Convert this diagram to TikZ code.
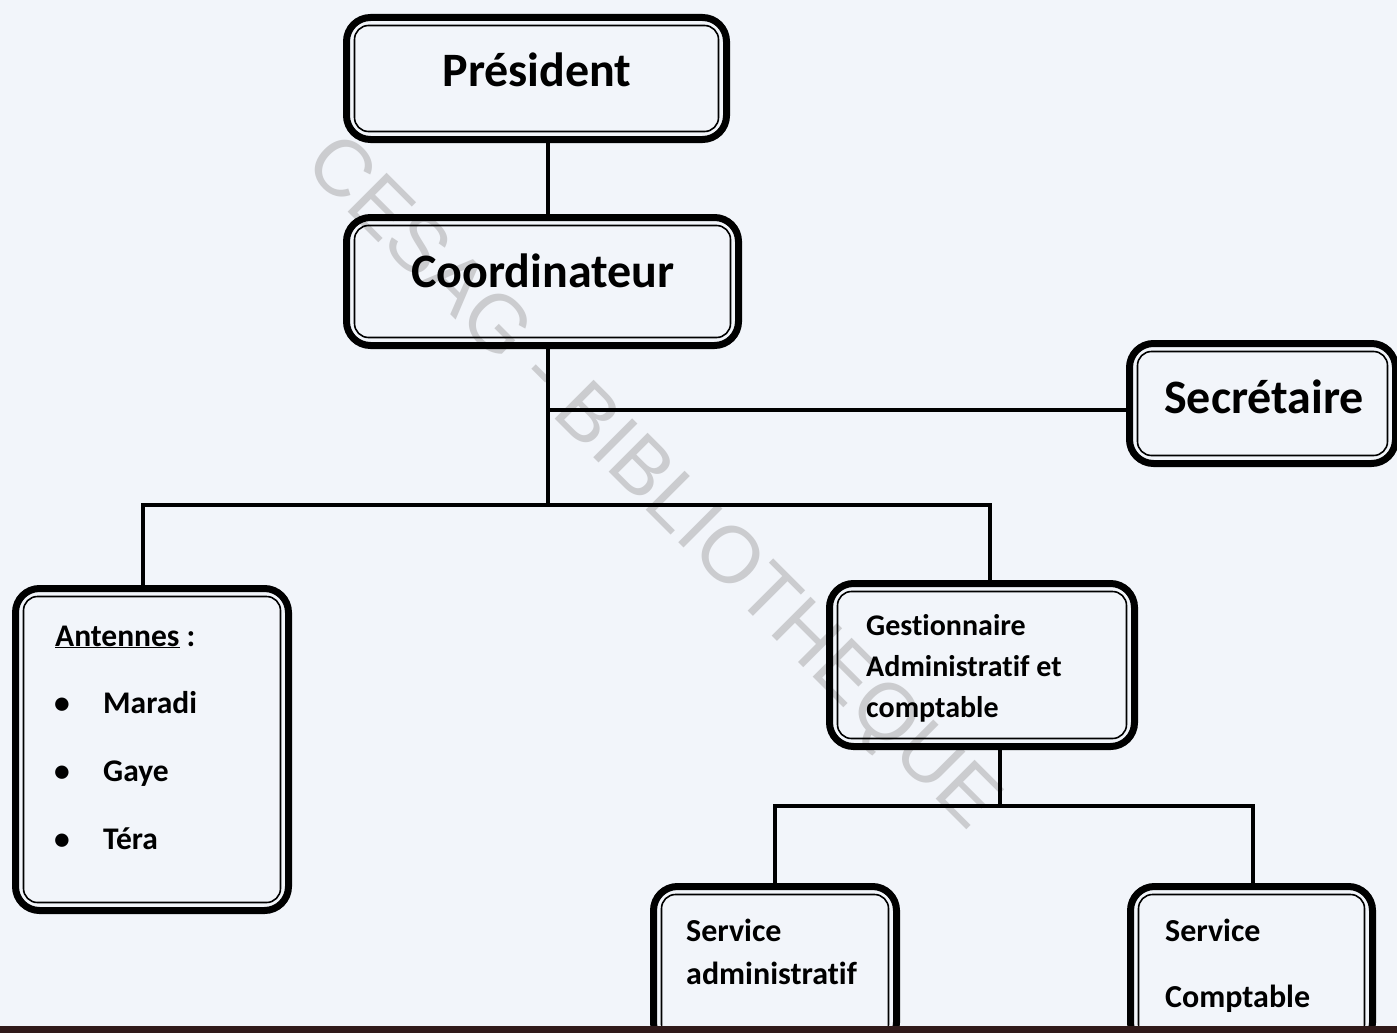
\documentclass[tikz,border=0pt]{standalone}
\usepackage{fontspec}
\setmainfont{Carlito}[Ligatures={NoCommon}]
\newfontfamily\wmfont{Liberation Sans}
\usetikzlibrary{calc}
\definecolor{bgcol}{RGB}{242,245,250}
\definecolor{wmcol}{RGB}{203,204,207}
\definecolor{barcol}{RGB}{48,26,26}
\begin{document}
\begin{tikzpicture}[x=1pt,y=-1pt,
  orgbox/.style={draw=black, line width=7pt, outer sep=3.5pt, inner sep=0pt, rounded corners=24pt},
  innerline/.style={draw=black, line width=1.6pt, rounded corners=14pt},
  conn/.style={draw=black, line width=3.6pt},
  bigtxt/.style={font=\bfseries\fontsize{48}{56}\selectfont, inner sep=0pt, anchor=base},
  smalltxt/.style={font=\bfseries\fontsize{30}{35}\selectfont, inner sep=0pt, anchor=base west},
  midtxt/.style={font=\bfseries\fontsize{31.5}{36}\selectfont, inner sep=0pt, anchor=base west},
  svctxt/.style={font=\bfseries\fontsize{32}{37}\selectfont, inner sep=0pt, anchor=base west},
  bul/.style={font=\bfseries\fontsize{31.5}{36}\selectfont, inner sep=0pt, anchor=base}]
\useasboundingbox (0,0) rectangle (1397,1033);
\fill[bgcol] (0,0) rectangle (1397,1033);
% watermark
\node[font=\wmfont\fontsize{80}{90}\selectfont, text=wmcol, rotate=-45, inner sep=0pt] (wm) at (650,485) {CESAG - BIBLIOTHEQUE};
% boxes
\node[orgbox, minimum width=380pt, minimum height=122pt] (pres) at (536.5,78.5) {};
\node[orgbox, minimum width=392pt, minimum height=128pt] (coord) at (542.5,281.5) {};
\node[orgbox, minimum width=266pt, minimum height=120pt] (sec) at (1262.5,403.5) {};
\node[orgbox, minimum width=273pt, minimum height=322pt] (ant) at (152,749.5) {};
\node[orgbox, minimum width=305pt, minimum height=163pt] (gest) at (982,665) {};
\node[orgbox, minimum width=243pt, minimum height=160pt] (sadm) at (775,966.5) {};
\node[orgbox, minimum width=242pt, minimum height=160pt] (scpt) at (1251.5,966.5) {};
\foreach \n in {pres,coord,sec,ant,gest,sadm,scpt}
  \draw[innerline] ([shift={(11.5pt,11.5pt)}]\n.south west) rectangle ([shift={(-11.5pt,-11.5pt)}]\n.north east);
% junctions
\coordinate (j1) at (548,410);
\coordinate (j2) at (548,505);
\coordinate (j3) at (143,505);
\coordinate (j4) at (990,505);
\coordinate (j5) at (1000,806);
\coordinate (j6) at (775,806);
\coordinate (j7) at (1253,806);
% connectors
\draw[conn] (pres.south -| j1) -- (coord.north -| j1);
\draw[conn] (coord.south -| j1) -- (j2);
\draw[conn] (j1) -- (sec.west |- j1);
\draw[conn] (ant.north -| j3) -- (j3) -- (j4) -- (gest.north -| j4);
\draw[conn] (gest.south -| j5) -- (j5);
\draw[conn] (sadm.north -| j6) -- (j6) -- (j7) -- (scpt.north -| j7);
% texts
\node[bigtxt] (tpres) at (537,86) {Président};
\node[bigtxt] (tcoord) at (543,287) {Coordinateur};
\node[bigtxt] (tsec) at (1264,413) {Secrétaire};
\node[midtxt] (tant) at (55,646) {\underline{Antennes} :};
\node[bul] (b1) at (62,713) {•};
\node[bul] (b2) at (62,781) {•};
\node[bul] (b3) at (62,849) {•};
\node[midtxt] (t1) at (103,713) {Maradi};
\node[midtxt] (t2) at (103,781) {Gaye};
\node[midtxt] (t3) at (103,849) {Téra};
\node[smalltxt] (g1) at (866,635) {Gestionnaire};
\node[smalltxt] (g2) at (866,676) {Administratif et};
\node[smalltxt] (g3) at (866,717) {comptable};
\node[svctxt] (sa1) at (686,941) {Service};
\node[svctxt] (sa2) at (686,984) {administratif};
\node[svctxt] (sc1) at (1165,941) {Service};
\node[svctxt] (sc2) at (1165,1007) {Comptable};
% bottom bar
\fill[barcol] (0,1026) rectangle (1397,1033);
\end{tikzpicture}
\end{document}
